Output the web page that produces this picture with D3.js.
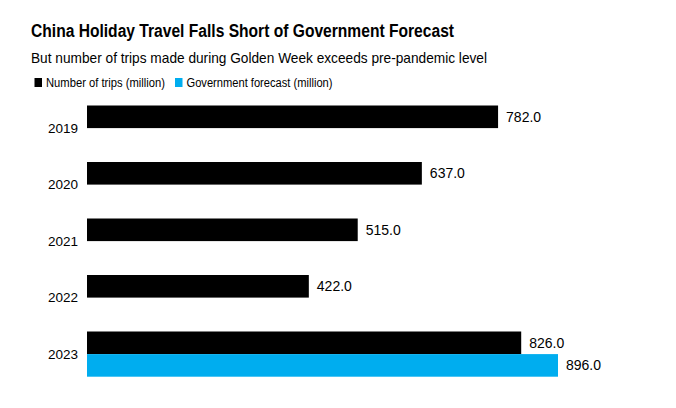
<!DOCTYPE html>
<html>
<head>
<meta charset="utf-8">
<script src="https://cdn.jsdelivr.net/npm/d3@7"></script>
<style>
  body { margin: 0; background: #fff; }
  text { font-family: "Liberation Sans", Arial, sans-serif; }
</style>
</head>
<body>
<div id="chart"></div>
<script>
const years = ['2019', '2020', '2021', '2022', '2023'];
const trips = [782, 637, 515, 422, 826];
const forecast = [null, null, null, null, 896];
const seriesNames = ['Number of trips (million)', 'Government forecast (million)'];
const seriesColors = ['#000000', '#00adef'];

const width = 676;
const height = 408;

const svg = d3.select('#chart')
    .append('svg')
    .attr('width', width)
    .attr('height', height);

// title + subtitle, squeezed to the narrower width of the original face
svg.append('text')
    .attr('x', 31)
    .attr('y', 37)
    .attr('font-size', 17.5)
    .attr('font-weight', 'bold')
    .attr('fill', '#000')
    .attr('textLength', 423)
    .attr('lengthAdjust', 'spacingAndGlyphs')
    .text('China Holiday Travel Falls Short of Government Forecast');

svg.append('text')
    .attr('x', 31)
    .attr('y', 63)
    .attr('font-size', 15)
    .attr('fill', '#000')
    .attr('textLength', 456)
    .attr('lengthAdjust', 'spacingAndGlyphs')
    .text('But number of trips made during Golden Week exceeds pre-pandemic level');

// legend
const legendWidths = [119, 146];
const legend = svg.append('g').attr('transform', 'translate(34.5,78)');
let lx = 0;
seriesNames.forEach((name, i) => {
    const g = legend.append('g').attr('transform', `translate(${lx},0)`);
    g.append('rect').attr('width', 7.5).attr('height', 9).attr('fill', seriesColors[i]);
    g.append('text')
        .attr('x', 11.5)
        .attr('y', 9)
        .attr('font-size', 12.5)
        .attr('textLength', legendWidths[i])
        .attr('lengthAdjust', 'spacingAndGlyphs')
        .text(name);
    lx += 11.5 + legendWidths[i] + 10;
});

const rows = years.map((y, i) => ({ year: y, values: [trips[i], forecast[i]] }));

const y0 = d3.scaleBand()
    .domain(years)
    .range([105.5, 376.7])
    .paddingInner(0.2)
    .paddingOuter(0);

const y1 = d3.scaleBand()
    .domain([0, 1])
    .range([0, y0.bandwidth()]);

const x = d3.scaleLinear()
    .domain([0, 896])
    .range([87, 558]);

const groups = svg.append('g')
    .selectAll('g')
    .data(rows)
    .join('g')
    .attr('transform', d => `translate(0,${y0(d.year)})`);

groups.append('text')
    .attr('x', 78)
    .attr('y', y0.bandwidth() / 2 + 4.5)
    .attr('text-anchor', 'end')
    .attr('font-size', 13.5)
    .text(d => d.year);

const bars = groups.selectAll('g.bar')
    .data(d => d.values.map((v, i) => ({ v, i })).filter(e => e.v != null))
    .join('g')
    .attr('class', 'bar');

bars.append('rect')
    .attr('x', x(0))
    .attr('y', d => y1(d.i))
    .attr('width', d => x(d.v) - x(0))
    .attr('height', y1.bandwidth())
    .attr('fill', d => seriesColors[d.i]);

bars.append('text')
    .attr('x', d => x(d.v) + 8)
    .attr('y', d => y1(d.i) + y1.bandwidth() / 2 + 5)
    .attr('font-size', 14)
    .text(d => d3.format('.1f')(d.v));
</script>
</body>
</html>
